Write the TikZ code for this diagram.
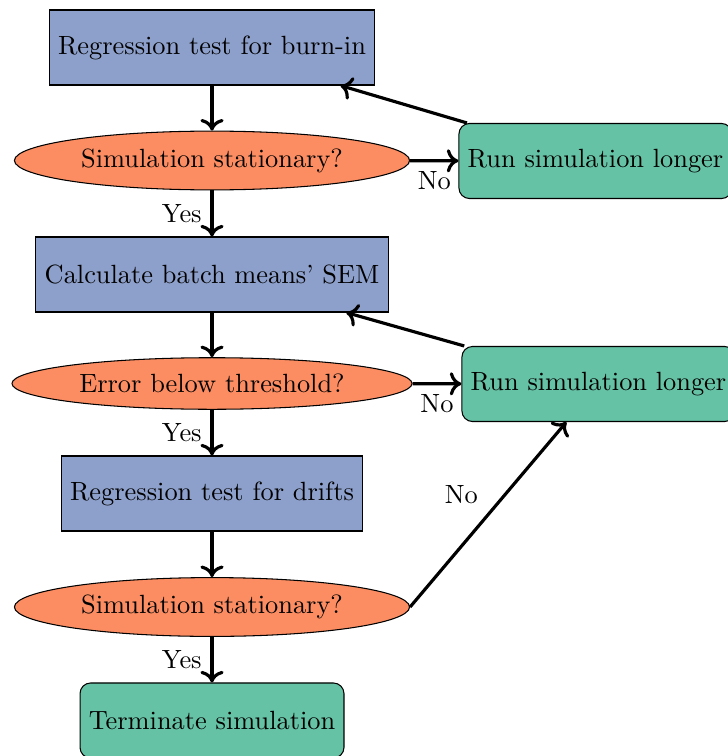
\documentclass[tikz,border=0pt]{standalone}
\usetikzlibrary{shapes.geometric,arrows.meta}
\definecolor{sblue}{HTML}{8DA0CB}
\definecolor{sorange}{HTML}{FC8D62}
\definecolor{sgreen}{HTML}{66C2A5}
\tikzset{
  procbox/.style={rectangle, draw, fill=sblue, minimum height=1cm},
  decision/.style={ellipse, draw, fill=sorange},
  actbox/.style={rectangle, rounded corners, draw, fill=sgreen, minimum height=1cm},
  flow/.style={-{Computer Modern Rightarrow[length=4.4pt,width=8.8pt]}, line width=1.2pt}
}
\begin{document}
\begin{tikzpicture}[x=0.3792pt, y=-0.3792pt]
\useasboundingbox (0,0) rectangle (728,756);
\node[procbox] (b1) at (212,47.5) {Regression test for burn-in};
\node[decision] (e1) at (212,160.5) {Simulation stationary?};
\node[actbox] (g1) at (595.5,161) {Run simulation longer};
\node[procbox] (b2) at (212,274.5) {Calculate batch means' SEM};
\node[decision] (e2) at (212,383.5) {Error below threshold?};
\node[actbox] (g2) at (598.5,384) {Run simulation longer};
\node[procbox] (b3) at (212,493.5) {Regression test for drifts};
\node[decision] (e3) at (212,607) {Simulation stationary?};
\node[actbox] (t) at (212,720.5) {Terminate simulation};

\draw[flow] (b1) -- (e1);
\draw[flow] (e1) -- node[below] {No} (g1);
\draw[flow] (g1) -- (b1);
\draw[flow] (e1) -- node[left] {Yes} (b2);
\draw[flow] (b2) -- (e2);
\draw[flow] (e2) -- node[below] {No} (g2);
\draw[flow] (g2) -- (b2);
\draw[flow] (e2) -- node[left] {Yes} (b3);
\draw[flow] (b3) -- (e3);
\draw[flow] (e3.east) -- node[above left] {No} (g2);
\draw[flow] (e3) -- node[left] {Yes} (t);
\end{tikzpicture}
\end{document}
